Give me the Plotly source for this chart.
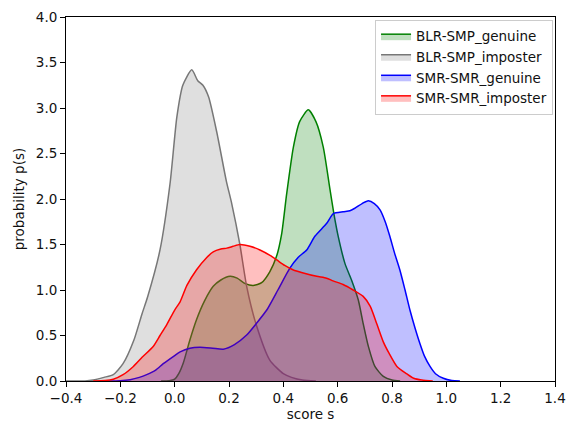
import plotly.graph_objects as go

# ---- data ----
blr_gen_s = [-0.05, -0.02, 0.0, 0.015, 0.032, 0.056, 0.08, 0.11, 0.142, 0.17, 0.204, 0.23, 0.26, 0.289, 0.32, 0.35,
             0.375, 0.394, 0.412, 0.437, 0.46, 0.492, 0.52, 0.547, 0.572, 0.586, 0.602, 0.627, 0.651, 0.676, 0.694,
             0.713, 0.737, 0.768, 0.80, 0.83]
blr_gen_p = [0.0, 0.003, 0.02, 0.08, 0.2, 0.45, 0.67, 0.88, 1.04, 1.11, 1.15, 1.13, 1.07, 1.05, 1.08, 1.2,
             1.37, 1.62, 2.05, 2.57, 2.85, 2.98, 2.85, 2.57, 2.10, 1.84, 1.59, 1.29, 1.11, 0.89, 0.63,
             0.38, 0.16, 0.05, 0.01, 0.0]

blr_imp_s = [-0.40, -0.33, -0.30, -0.26, -0.226, -0.19, -0.15, -0.12, -0.10, -0.054, -0.017, 0.008, 0.03, 0.063,
             0.085, 0.104, 0.125, 0.156, 0.19, 0.21, 0.24, 0.265, 0.30, 0.35, 0.40, 0.43, 0.47, 0.52]
blr_imp_p = [0.0, 0.0, 0.01, 0.04, 0.07, 0.19, 0.45, 0.74, 0.92, 1.44, 2.17, 2.9, 3.25, 3.42,
             3.3, 3.25, 3.12, 2.72, 2.2, 1.95, 1.5, 1.04, 0.62, 0.23, 0.08, 0.04, 0.01, 0.0]

smr_gen_s = [-0.25, -0.20, -0.164, -0.13, -0.103, -0.07, -0.042, 0.0, 0.02, 0.056, 0.093, 0.14, 0.179, 0.22, 0.265,
             0.30, 0.339, 0.38, 0.424, 0.455, 0.486, 0.516, 0.559, 0.584, 0.62, 0.645, 0.664, 0.69, 0.713, 0.735,
             0.756, 0.775, 0.792, 0.81, 0.829, 0.848, 0.866, 0.885, 0.903, 0.92, 0.94, 0.96, 0.989, 1.02, 1.05]
smr_gen_p = [0.0, 0.003, 0.015, 0.04, 0.07, 0.12, 0.19, 0.28, 0.32, 0.36, 0.37, 0.36, 0.35, 0.40, 0.505,
             0.63, 0.78, 1.0, 1.24, 1.36, 1.44, 1.59, 1.73, 1.84, 1.86, 1.87, 1.90, 1.95, 1.98, 1.95,
             1.88, 1.75, 1.59, 1.40, 1.22, 1.0, 0.78, 0.58, 0.41, 0.27, 0.16, 0.08, 0.03, 0.005, 0.0]

smr_imp_s = [-0.30, -0.256, -0.226, -0.19, -0.152, -0.12, -0.079, -0.054, -0.029, 0.0, 0.02, 0.045, 0.08, 0.119,
             0.142, 0.17, 0.192, 0.215, 0.24, 0.277, 0.314, 0.351, 0.376, 0.405, 0.437, 0.47, 0.523, 0.559, 0.583,
             0.62, 0.657, 0.694, 0.72, 0.745, 0.768, 0.79, 0.818, 0.854, 0.88, 0.91, 0.95]
smr_imp_p = [0.0, 0.005, 0.02, 0.07, 0.16, 0.26, 0.38, 0.5, 0.62, 0.78, 0.87, 1.05, 1.22, 1.36,
             1.42, 1.45, 1.46, 1.48, 1.50, 1.48, 1.44, 1.38, 1.33, 1.27, 1.22, 1.19, 1.15, 1.13, 1.10,
             1.06, 1.0, 0.93, 0.82, 0.62, 0.43, 0.30, 0.16, 0.08, 0.03, 0.01, 0.0]

names = ["BLR-SMP_genuine", "BLR-SMP_imposter", "SMR-SMR_genuine", "SMR-SMR_imposter"]
x_ticks = [-0.4, -0.2, 0.0, 0.2, 0.4, 0.6, 0.8, 1.0, 1.2, 1.4]
x_tick_labels = ["\u22120.4", "\u22120.2", "0.0", "0.2", "0.4", "0.6", "0.8", "1.0", "1.2", "1.4"]
y_ticks = [0.0, 0.5, 1.0, 1.5, 2.0, 2.5, 3.0, 3.5, 4.0]

series = [
    (blr_gen_s, blr_gen_p, "#008000", "rgba(0,128,0,0.25)"),
    (blr_imp_s, blr_imp_p, "#777777", "rgba(128,128,128,0.25)"),
    (smr_gen_s, smr_gen_p, "#0000ff", "rgba(0,0,255,0.25)"),
    (smr_imp_s, smr_imp_p, "#ff0000", "rgba(255,0,0,0.25)"),
]

fig = go.Figure()
for name, (xs, ys, lc, fc) in zip(names, series):
    fig.add_trace(go.Scatter(
        x=xs, y=ys, name=name, mode="lines",
        line=dict(color=lc, width=1.5, shape="spline", smoothing=0.6),
        fill="tozeroy", fillcolor=fc,
    ))

font_family = "DejaVu Sans"
fs = 13.5
fig.update_layout(
    width=571, height=422,
    margin=dict(l=66, r=16, t=17, b=41),
    paper_bgcolor="white", plot_bgcolor="white",
    font=dict(family=font_family, size=fs, color="#111111"),
    showlegend=True,
    legend=dict(
        x=0.996, y=0.992, xanchor="right", yanchor="top",
        bgcolor="rgba(255,255,255,0.8)", bordercolor="#cccccc", borderwidth=1,
        font=dict(size=fs), tracegroupgap=0,
    ),
)
fig.update_xaxes(
    range=[-0.4, 1.4], tickmode="array", tickvals=x_ticks, ticktext=x_tick_labels,
    showgrid=False, zeroline=False, showline=True, linecolor="black", linewidth=1,
    mirror=True, ticks="outside", ticklen=5, tickcolor="black", automargin=False,
    title=dict(text="score s", standoff=4, font=dict(size=fs)),
)
fig.update_yaxes(
    range=[0, 4.0], tickmode="array", tickvals=y_ticks, ticktext=[f"{v:.1f}" for v in y_ticks],
    showgrid=False, zeroline=False, showline=True, linecolor="black", linewidth=1,
    mirror=True, ticks="outside", ticklen=5, tickcolor="black", automargin=False,
    title=dict(text="probability p(s)", standoff=8, font=dict(size=fs)),
)

fig.write_html("out.html")
